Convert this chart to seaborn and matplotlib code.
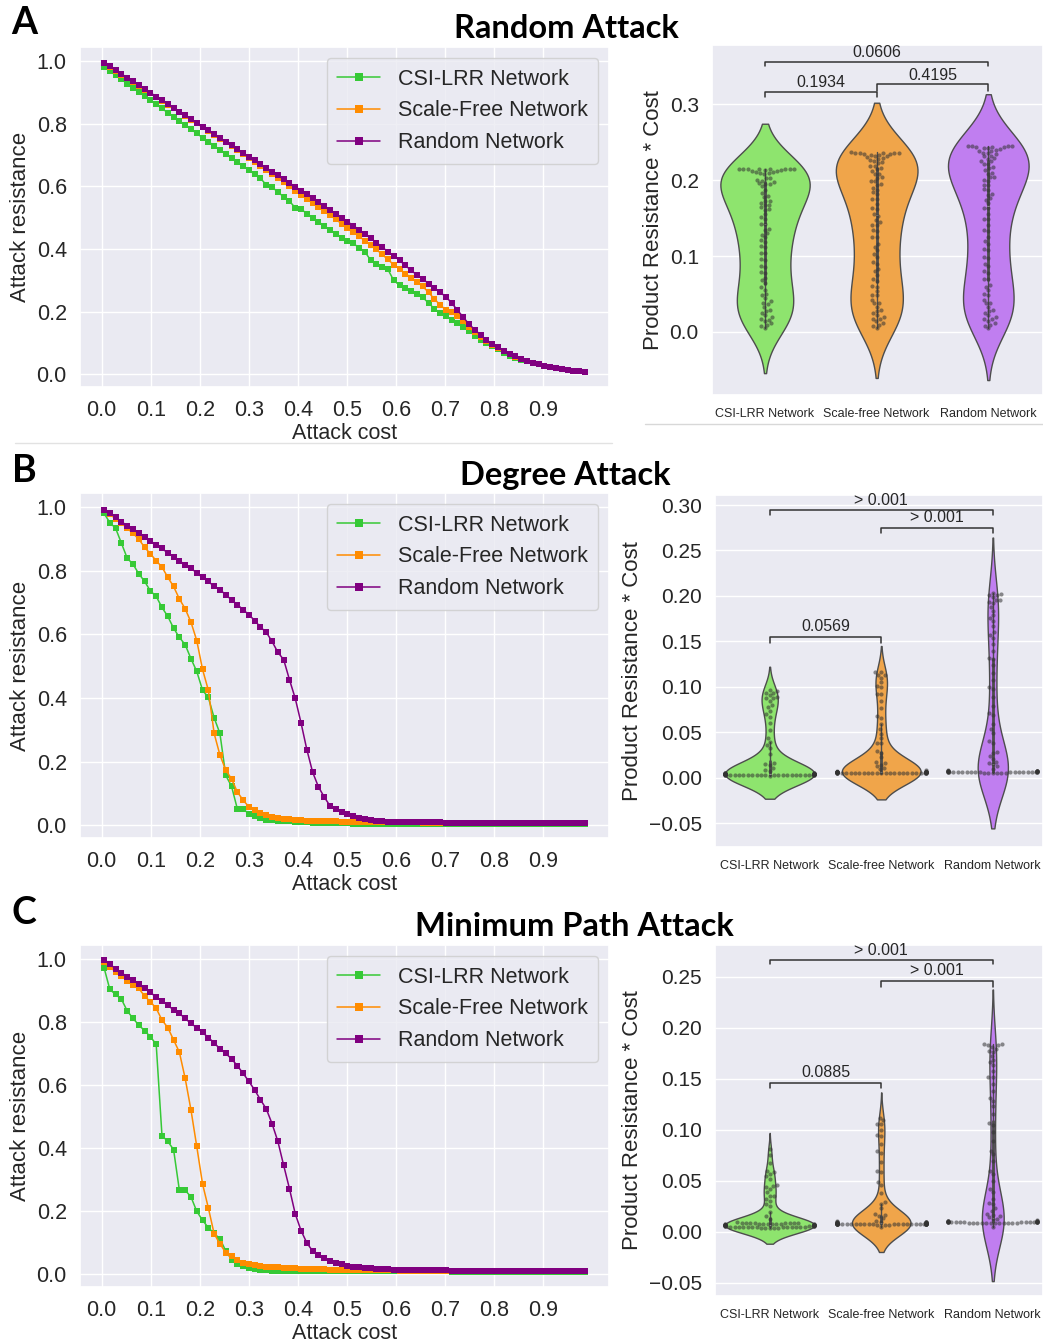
import warnings
import numpy as np
import pandas as pd
import matplotlib.pyplot as plt
import seaborn as sns
from matplotlib.lines import Line2D

warnings.filterwarnings("ignore")

# ---- data -------------------------------------------------------------
networks = ["CSI-LRR Network", "Scale-Free Network", "Random Network"]
violin_labels = ["CSI-LRR Network", "Scale-free Network", "Random Network"]
line_colors = ["#36c936", "#ff8c00", "#800080"]
violin_colors = ["#8ee46e", "#f0a54a", "#c07ef0"]

# fraction of removed nodes (84 attack steps)
attack_cost = np.linspace(0.005, 0.985, 84)

random_csi = [0.982, 0.968, 0.955, 0.942, 0.928, 0.915, 0.902, 0.888, 0.875, 0.862,
              0.849, 0.835, 0.822, 0.809, 0.796, 0.783, 0.769, 0.756, 0.743, 0.730,
              0.717, 0.704, 0.691, 0.678, 0.665, 0.652, 0.639, 0.626, 0.605, 0.598,
              0.582, 0.567, 0.553, 0.532, 0.528, 0.513, 0.500, 0.487, 0.474, 0.462,
              0.449, 0.436, 0.425, 0.418, 0.405, 0.392, 0.365, 0.352, 0.342, 0.335,
              0.300, 0.285, 0.275, 0.265, 0.256, 0.246, 0.228, 0.210, 0.195, 0.185,
              0.175, 0.163, 0.151, 0.139, 0.124, 0.111, 0.100, 0.090, 0.080, 0.068,
              0.060, 0.053, 0.047, 0.042, 0.037, 0.032, 0.028, 0.024, 0.021, 0.018,
              0.015, 0.012, 0.010, 0.008]
random_sf = [0.993, 0.981, 0.969, 0.957, 0.945, 0.933, 0.921, 0.909, 0.897, 0.885,
             0.873, 0.861, 0.849, 0.837, 0.825, 0.813, 0.801, 0.789, 0.777, 0.765,
             0.753, 0.741, 0.729, 0.717, 0.705, 0.692, 0.679, 0.666, 0.653, 0.640,
             0.627, 0.614, 0.601, 0.587, 0.573, 0.560, 0.547, 0.534, 0.521, 0.508,
             0.495, 0.481, 0.468, 0.455, 0.441, 0.427, 0.413, 0.399, 0.383, 0.367,
             0.350, 0.336, 0.322, 0.309, 0.296, 0.281, 0.262, 0.241, 0.222, 0.206,
             0.198, 0.186, 0.170, 0.150, 0.135, 0.120, 0.106, 0.094, 0.083, 0.074,
             0.065, 0.057, 0.050, 0.044, 0.038, 0.033, 0.028, 0.024, 0.021, 0.018,
             0.015, 0.012, 0.010, 0.008]
random_rn = [0.995, 0.983, 0.971, 0.959, 0.947, 0.935, 0.923, 0.911, 0.899, 0.887,
             0.875, 0.863, 0.851, 0.839, 0.827, 0.815, 0.803, 0.791, 0.779, 0.767,
             0.755, 0.743, 0.731, 0.719, 0.707, 0.695, 0.683, 0.671, 0.659, 0.647,
             0.635, 0.623, 0.611, 0.599, 0.587, 0.575, 0.563, 0.550, 0.538, 0.525,
             0.513, 0.500, 0.488, 0.475, 0.462, 0.448, 0.435, 0.421, 0.406, 0.392,
             0.378, 0.364, 0.348, 0.332, 0.318, 0.305, 0.290, 0.276, 0.262, 0.248,
             0.228, 0.205, 0.183, 0.160, 0.143, 0.126, 0.110, 0.097, 0.087, 0.076,
             0.066, 0.058, 0.050, 0.044, 0.038, 0.033, 0.028, 0.024, 0.021, 0.018,
             0.015, 0.012, 0.010, 0.008]

degree_csi = [0.981, 0.952, 0.934, 0.887, 0.840, 0.821, 0.791, 0.767, 0.737, 0.720,
              0.685, 0.657, 0.620, 0.591, 0.568, 0.524, 0.484, 0.425, 0.402, 0.338,
              0.289, 0.157, 0.123, 0.052, 0.052, 0.035, 0.029, 0.024, 0.017, 0.016,
              0.014, 0.013, 0.012, 0.011, 0.010, 0.009, 0.008, 0.007, 0.007, 0.006,
              0.006, 0.006, 0.006, 0.005, 0.005, 0.005, 0.005, 0.005, 0.005, 0.005,
              0.005, 0.005, 0.005, 0.005, 0.005, 0.005, 0.005, 0.005, 0.005, 0.005,
              0.005, 0.005, 0.005, 0.005, 0.005, 0.005, 0.005, 0.005, 0.005, 0.005,
              0.005, 0.005, 0.005, 0.005, 0.005, 0.005, 0.005, 0.005, 0.005, 0.005,
              0.005, 0.005, 0.005, 0.005]
degree_sf = [0.990, 0.978, 0.964, 0.950, 0.934, 0.918, 0.900, 0.874, 0.854, 0.832,
             0.812, 0.780, 0.751, 0.712, 0.681, 0.639, 0.581, 0.490, 0.425, 0.289,
             0.221, 0.174, 0.146, 0.105, 0.079, 0.058, 0.047, 0.040, 0.032, 0.027,
             0.024, 0.021, 0.019, 0.017, 0.016, 0.015, 0.014, 0.013, 0.013, 0.012,
             0.012, 0.011, 0.011, 0.010, 0.010, 0.010, 0.010, 0.010, 0.009, 0.009,
             0.009, 0.009, 0.009, 0.009, 0.009, 0.008, 0.008, 0.008, 0.008, 0.008,
             0.008, 0.008, 0.008, 0.008, 0.008, 0.008, 0.008, 0.008, 0.008, 0.008,
             0.007, 0.007, 0.007, 0.007, 0.007, 0.007, 0.007, 0.007, 0.007, 0.007,
             0.007, 0.007, 0.007, 0.007]
degree_rn = [0.992, 0.981, 0.969, 0.955, 0.942, 0.931, 0.918, 0.906, 0.894, 0.882,
             0.871, 0.856, 0.845, 0.832, 0.819, 0.809, 0.793, 0.780, 0.767, 0.751,
             0.741, 0.725, 0.709, 0.694, 0.678, 0.662, 0.644, 0.623, 0.607, 0.578,
             0.544, 0.521, 0.458, 0.399, 0.322, 0.238, 0.167, 0.121, 0.089, 0.061,
             0.050, 0.042, 0.035, 0.029, 0.024, 0.019, 0.016, 0.014, 0.012, 0.011,
             0.010, 0.010, 0.010, 0.010, 0.010, 0.009, 0.009, 0.009, 0.009, 0.008,
             0.008, 0.008, 0.008, 0.008, 0.008, 0.008, 0.008, 0.008, 0.008, 0.008,
             0.008, 0.008, 0.008, 0.008, 0.008, 0.008, 0.008, 0.008, 0.008, 0.008,
             0.008, 0.008, 0.008, 0.008]

path_csi = [0.973, 0.904, 0.888, 0.873, 0.836, 0.812, 0.791, 0.773, 0.754, 0.730,
            0.440, 0.422, 0.396, 0.267, 0.267, 0.246, 0.200, 0.172, 0.148, 0.130,
            0.113, 0.075, 0.047, 0.034, 0.026, 0.021, 0.016, 0.014, 0.013, 0.012,
            0.011, 0.011, 0.010, 0.010, 0.010, 0.010, 0.010, 0.010, 0.010, 0.010,
            0.010, 0.010, 0.010, 0.010, 0.010, 0.010, 0.010, 0.010, 0.010, 0.010,
            0.010, 0.010, 0.010, 0.010, 0.010, 0.010, 0.010, 0.010, 0.010, 0.010,
            0.009, 0.009, 0.009, 0.009, 0.009, 0.009, 0.009, 0.009, 0.009, 0.009,
            0.009, 0.009, 0.009, 0.009, 0.009, 0.009, 0.009, 0.009, 0.009, 0.009,
            0.009, 0.009, 0.009, 0.009]
path_sf = [0.990, 0.975, 0.960, 0.946, 0.932, 0.918, 0.907, 0.883, 0.865, 0.844,
           0.807, 0.783, 0.744, 0.705, 0.622, 0.522, 0.406, 0.287, 0.211, 0.129,
           0.097, 0.069, 0.058, 0.047, 0.037, 0.034, 0.030, 0.026, 0.024, 0.023,
           0.022, 0.021, 0.020, 0.019, 0.018, 0.017, 0.017, 0.016, 0.016, 0.015,
           0.015, 0.015, 0.014, 0.014, 0.014, 0.014, 0.013, 0.013, 0.013, 0.013,
           0.013, 0.012, 0.012, 0.012, 0.012, 0.012, 0.012, 0.011, 0.011, 0.011,
           0.011, 0.011, 0.011, 0.011, 0.010, 0.010, 0.010, 0.010, 0.010, 0.010,
           0.010, 0.010, 0.010, 0.010, 0.010, 0.010, 0.010, 0.010, 0.010, 0.010,
           0.010, 0.010, 0.010, 0.010]
path_rn = [0.997, 0.984, 0.970, 0.957, 0.944, 0.934, 0.920, 0.907, 0.895, 0.879,
           0.867, 0.854, 0.839, 0.828, 0.812, 0.796, 0.783, 0.768, 0.751, 0.735,
           0.715, 0.701, 0.684, 0.662, 0.638, 0.612, 0.585, 0.554, 0.525, 0.478,
           0.422, 0.346, 0.272, 0.192, 0.139, 0.100, 0.074, 0.061, 0.051, 0.044,
           0.037, 0.032, 0.028, 0.025, 0.023, 0.021, 0.019, 0.018, 0.017, 0.016,
           0.015, 0.015, 0.014, 0.014, 0.014, 0.013, 0.013, 0.013, 0.013, 0.013,
           0.012, 0.012, 0.012, 0.012, 0.012, 0.012, 0.012, 0.012, 0.012, 0.012,
           0.012, 0.012, 0.012, 0.012, 0.012, 0.011, 0.011, 0.011, 0.010, 0.010,
           0.010, 0.010, 0.010, 0.010]

# significance brackets: (cat1, cat2, bar y, tick drop, label, label y)
brackets_random = [(0, 1, 0.316, 0.006, "0.1934", 0.329),
                   (1, 2, 0.326, 0.008, "0.4195", 0.338),
                   (0, 2, 0.355, 0.005, "0.0606", 0.368)]
brackets_degree = [(0, 2, 0.2945, 0.006, "> 0.001", 0.305),
                   (1, 2, 0.275, 0.006, "> 0.001", 0.286),
                   (0, 1, 0.155, 0.007, "0.0569", 0.166)]
brackets_path = [(0, 2, 0.266, 0.004, "> 0.001", 0.276),
                 (1, 2, 0.246, 0.006, "> 0.001", 0.256),
                 (0, 1, 0.146, 0.005, "0.0885", 0.156)]

# ---- style ------------------------------------------------------------
sns.set_theme(style="darkgrid")
plt.rcParams["font.family"] = ["Liberation Sans", "DejaVu Sans"]

W, H = 1043, 1343
fig = plt.figure(figsize=(W / 100, H / 100), dpi=100)


def px_axes(x0, y0, x1, y1):
    return fig.add_axes([x0 / W, 1 - y1 / H, (x1 - x0) / W, (y1 - y0) / H])


def line_panel(ax, curves):
    df = pd.DataFrame({
        "cost": np.tile(attack_cost, 3),
        "resistance": np.concatenate([np.asarray(c) for c in curves]),
        "network": np.repeat(networks, len(attack_cost)),
    })
    sns.lineplot(data=df, x="cost", y="resistance", hue="network",
                 hue_order=networks, palette=line_colors, marker="s",
                 markersize=4, markeredgewidth=0, linewidth=1.1,
                 estimator=None, ax=ax)
    ax.set_xlim(-0.044, 1.034)
    ax.set_ylim(-0.04, 1.045)
    ax.set_xticks(np.arange(0, 1.0, 0.1))
    ax.set_xticklabels([f"{t:.1f}" for t in np.arange(0, 1.0, 0.1)])
    ax.set_yticks([0, 0.2, 0.4, 0.6, 0.8, 1.0])
    ax.tick_params(labelsize=15.5)
    ax.set_xlabel("Attack cost", fontsize=15.5, labelpad=1)
    ax.set_ylabel("Attack resistance", fontsize=16)
    ax.legend(loc="upper right", fontsize=15.5, handlelength=2.0,
              markerscale=1.4, labelspacing=0.5, borderpad=0.5)


def violin_panel(ax, curves, ylim, yticks, fmt, brackets, xlim):
    prod = [attack_cost * np.asarray(c) for c in curves]
    df = pd.DataFrame({
        "network": np.repeat(violin_labels, len(attack_cost)),
        "value": np.concatenate(prod),
    })
    sns.violinplot(data=df, x="network", y="value", hue="network",
                   order=violin_labels, hue_order=violin_labels,
                   palette=violin_colors, saturation=1, inner="box",
                   common_norm=True, linecolor="0.3", linewidth=1,
                   legend=False, ax=ax,
                   inner_kws=dict(box_width=2, whis_width=1, color="0.3"))
    sns.swarmplot(data=df, x="network", y="value", order=violin_labels,
                  color="0.2", size=3, alpha=0.55, ax=ax)
    ax.set_xlim(*xlim)
    ax.set_ylim(*ylim)
    ax.set_yticks(yticks)
    ax.set_yticklabels([fmt.format(t).replace("-", "\u2212") for t in yticks])
    ax.tick_params(axis="y", labelsize=15)
    ax.tick_params(axis="x", labelsize=9)
    ax.set_xlabel("")
    ax.set_ylabel("Product Resistance * Cost", fontsize=16)
    for c1, c2, y, h, label, ty in brackets:
        ax.plot([c1, c1, c2, c2], [y - h, y, y, y - h], color="0.2",
                lw=1.1, clip_on=False)
        ax.text((c1 + c2) / 2, ty, label, ha="center", va="center",
                fontsize=11.5, color="0.15", clip_on=False)


# ---- panels -----------------------------------------------------------
ax_a = px_axes(80, 47, 609, 387)
line_panel(ax_a, [random_csi, random_sf, random_rn])
ax_b = px_axes(80, 493, 609, 838)
line_panel(ax_b, [degree_csi, degree_sf, degree_rn])
ax_c = px_axes(80, 945, 609, 1287)
line_panel(ax_c, [path_csi, path_sf, path_rn])

vx_a = px_axes(712, 45, 1043, 395)
violin_panel(vx_a, [random_csi, random_sf, random_rn], (-0.083, 0.378),
             [0.0, 0.1, 0.2, 0.3], "{:.1f}", brackets_random, (-0.475, 2.49))
vx_b = px_axes(715, 495, 1043, 847)
violin_panel(vx_b, [degree_csi, degree_sf, degree_rn], (-0.076, 0.311),
             [-0.05, 0.0, 0.05, 0.10, 0.15, 0.20, 0.25, 0.30], "{:.2f}",
             brackets_degree, (-0.49, 2.45))
vx_c = px_axes(715, 945, 1043, 1296)
violin_panel(vx_c, [path_csi, path_sf, path_rn], (-0.063, 0.281),
             [-0.05, 0.0, 0.05, 0.10, 0.15, 0.20, 0.25], "{:.2f}",
             brackets_path, (-0.49, 2.45))

# titles and panel letters
title_font = dict(family=["Lato", "DejaVu Sans"], weight="bold", color="black")
fig.text(566 / W, 1 - 28 / H, "Random Attack", ha="center", va="center",
         fontsize=23.5, **title_font)
fig.text(565 / W, 1 - 476 / H, "Degree Attack", ha="center", va="center",
         fontsize=23.5, **title_font)
fig.text(574 / W, 1 - 927 / H, "Minimum Path Attack", ha="center",
         va="center", fontsize=23.5, **title_font)
for letter, y in [("A", 23), ("B", 471), ("C", 913)]:
    fig.text(24 / W, 1 - y / H, letter, ha="center", va="center",
             fontsize=27, **title_font)

# thin separators under panel A
fig.add_artist(Line2D([15 / W, 612 / W], [1 - 443 / H] * 2, color="#e2e2e2", lw=1))
fig.add_artist(Line2D([645 / W, 1.0], [1 - 424 / H] * 2, color="#d8d8d8", lw=1))

fig.savefig("out.png", dpi=100)
